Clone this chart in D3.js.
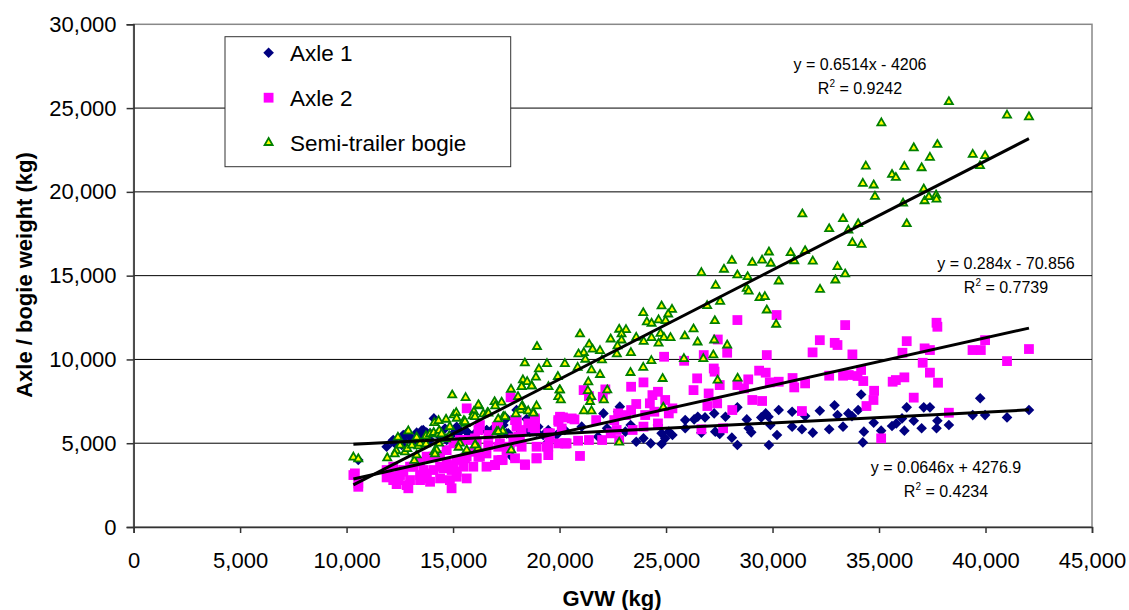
<!DOCTYPE html>
<html>
<head>
<meta charset="utf-8">
<script src="https://cdn.jsdelivr.net/npm/d3@7"></script>
<style>
  body { margin: 0; background: #fff; }
  text { font-family: Arial, "Liberation Sans", sans-serif; }
</style>
</head>
<body>
<div id="chart"></div>
<script>
// GVW (kg) vs axle weight (kg)
const axle1 = [
  [39750,7680],[42040,6980],[39400,6680],[39980,6680],[41010,6540],[38280,6090],[34160,7910],[32910,7260],
  [32220,6940],[30290,6980],[28350,7140],[36300,7140],[37100,7140],[37390,7140],[34020,6980],[33560,6780],
  [33730,6620],[33050,6680],[30920,6880],[31530,6620],[29680,6780],[29810,6580],[29470,6540],[28790,6420],
  [27790,6580],[27260,6780],[26830,6540],[26490,6580],[26320,6420],[25900,6380],[37740,6340],[36630,6340],
  [36080,6480],[35610,6030],[35810,6180],[34750,6220],[33310,5990],[32660,5830],[31890,5630],[31380,5830],
  [30920,5990],[29900,6090],[29000,5650],[28880,5890],[30210,5490],[28090,5330],[28350,4890],[29830,4890],
  [34290,5690],[34240,5050],[35100,5750],[36190,5750],[37000,5890],[37700,5890],[27520,5550],[27310,5690],
  [26660,5630],[25900,5890],[25130,5690],[25300,5490],[24790,5590],[24960,5290],[24790,4950],[24620,6090],
  [24280,4990],[23940,5290],[23600,5090],[23340,6090],[22830,7180],[22750,6880],[22060,6780],[22230,5890],
  [23090,5690],[21810,5390],[21040,5990],[17750,4200],[17360,6080],[18450,6440],[18060,5890],[18220,5690],
  [18610,5690],[18920,5690],[19390,4990],[19230,5490],[19860,5490],[17510,5590],[10550,4000],[11880,4790],
  [12120,5090],[12660,5490],[12980,5390],[13290,5630],[13520,5750],[13760,5630],[13920,5190],[15010,5590],
  [15320,5750],[15170,5980],[15640,5690],[16110,5690],[16340,5790],[16570,5750],[17510,6480],[17980,6980],
  [12660,5190],[13130,5090],[12350,4890],[14390,5390],[13450,5290],[14620,5880],[15640,5350],[16890,5880],
  [17200,5590],[14100,6480],[12190,5190],[12820,5590],[13600,5790],[13920,5590],[14390,5690],[14700,5190],
  [12590,4890],[13450,5390],[16580,5790],[15720,5590],[17590,5590],[18530,6380],[18460,5880],[19000,5980],
  [20250,5790],[19470,5790],[15250,5590]
];
const axle2 = [
  [30190,12650],[28350,12350],[33410,12050],[37700,12190],[37740,11950],[27430,11190],[32220,11150],[32920,10990],
  [33050,10860],[36300,11090],[39980,11150],[42040,10620],[39390,10560],[39780,10560],[31880,10420],[33750,10300],
  [36100,10400],[37140,10660],[37390,10560],[29730,10260],[27870,10400],[26770,10260],[24910,10160],[25850,9920],
  [27240,9460],[27280,9270],[41010,9900],[37050,9800],[37390,9210],[37770,8610],[29370,9330],[29680,9210],
  [32660,9030],[33310,9030],[33580,9070],[34160,9370],[33990,9010],[34260,8710],[36190,8930],[35640,8670],
  [35790,8770],[26460,8870],[27520,8470],[23940,8630],[23360,8370],[28860,8810],[28350,8470],[28660,8270],
  [29870,8630],[30290,8670],[30940,8890],[31020,8330],[31530,8570],[26290,8170],[27000,7970],[22150,8210],
  [21130,8170],[34770,8130],[36630,7720],[34740,7580],[34410,7220],[29050,7580],[29510,7520],[28110,6980],
  [26940,7220],[27400,7380],[24360,7870],[24620,8070],[24960,7580],[24240,7380],[23600,7340],[23360,6980],
  [23120,6680],[22750,6780],[21380,7810],[22030,7770],[25300,7080],[25130,6780],[24450,6880],[24020,6680],
  [31380,6920],[38280,6820],[22570,6380],[21720,6380],[20700,6420],[23940,5990],[24620,6180],[26660,5830],
  [27680,5890],[22680,5790],[23430,5790],[22400,5590],[22000,5190],[20870,5150],[21380,5190],[20270,4990],
  [22800,5190],[35100,5290],[20960,4240],[20160,6540],[17700,7740],[18530,6180],[18840,6480],[18720,5950],
  [17980,5990],[18140,5090],[18370,3740],[18920,4100],[19390,4790],[18920,4790],[17280,3990],[17510,4590],
  [20020,6580],[19950,6280],[19550,5590],[20330,4990],[19940,4990],[19520,5350],[17830,5290],[17670,4790],
  [10320,3100],[10550,2400],[11880,2960],[12190,2800],[12350,2560],[12900,2310],[12660,3400],[13130,3600],
  [13450,3100],[13760,2900],[14070,3400],[14390,2900],[14930,2310],[14700,3800],[15170,3000],[15480,3600],
  [15170,4000],[15640,4200],[15950,4490],[16260,4200],[16570,4390],[16970,3700],[17330,4000],[15640,7080],
  [16260,6080],[17050,5980],[17910,6380],[15320,5190],[14700,4590],[15710,5190],[15010,4990],[16110,4990],
  [16650,4890],[17200,4990],[14070,4200],[13450,3900],[12980,3600],[13760,4200],[14390,4290],[12510,3100],
  [11880,3400],[14930,3400],[15950,3600],[16570,3600],[14390,3600],[12980,2800],[15640,2900],
  [12190,3600],[12660,3300],[13600,3400],[14540,3500],[15010,3700],[12430,2800],[12820,2500],[13450,2800],
  [13920,2700],[14850,2800],[12190,3000],[10390,3200],[10550,2600],[13760,3200],[15170,3300],
  [17120,5980],[18850,5880],[18220,5790],[19940,6380],[20570,6480],[20100,5880],[19470,5590],[16190,5790],
  [16660,5490],[15400,5190],[16030,5290],[17120,4790],[18220,4790],[19470,4790],[20250,4990],[15560,4100],
  [16190,4190],[17120,3990],[17910,4100],[18920,4100],[18380,3700],[16970,3700],[19470,4290],[18060,5390],
  [18850,6380],[17990,6380]
];
const semiBogie = [
  [38280,25370],[41010,24570],[42040,24470],[35110,24110],[36630,22620],[37740,22820],[37390,22050],[39400,22230],
  [39980,22150],[39740,21550],[34380,21530],[36190,21510],[37000,21430],[35610,21030],[35790,20850],[34240,20500],
  [34750,20400],[34810,19720],[37100,20160],[37140,19460],[37340,19700],[37680,19800],[37700,19560],[36130,19320],
  [36300,18090],[31400,18670],[33310,18390],[32660,17790],[33560,17710],[34020,18090],[33750,16960],[34180,16860],
  [29830,16400],[30850,16360],[31530,16480],[31020,15880],[28090,15900],[29050,15780],[29510,15920],[29920,15730],
  [31890,15860],[33050,15530],[33410,15090],[32950,14730],[32230,14170],[26660,15170],[27720,15370],[28350,15030],
  [28830,14930],[27330,14410],[30290,14670],[28790,14230],[28880,14070],[29390,13680],[29640,13740],
  [27540,13460],[26930,13200],[29730,12940],[27290,12300],[30170,12090],[26290,11810],[25880,11390],[26480,11030],
  [27260,11150],[27870,10850],[27220,10260],[25840,10040],[26750,10040],[27420,8750],[28360,8870],
  [24790,13180],[25280,12980],[25100,12700],[23930,12780],[24100,12230],[24320,12150],[24650,12350],[24980,12310],
  [20960,11510],[22800,11790],[23120,11770],[22910,11510],[23600,11310],[22400,11210],[22910,11150],[23950,11070],
  [24320,11290],[24740,11550],[24900,11310],[25210,11290],[24650,10960],[18940,10760],[21390,10900],[22720,10800],
  [21140,10400],[20890,10320],[21550,10600],[21900,10520],[21990,9960],[21210,10000],[22690,10320],[23350,10400],
  [18370,9780],[19410,9740],[20250,9740],[21500,9370],[19030,9430],[20850,9520],[24310,9920],[23930,9520],
  [18890,8930],[18280,8770],[18480,8670],[19920,8970],[21900,9090],[23330,9210],[24840,8850],[18700,8410],
  [18230,8370],[19480,8370],[21350,8650],[20000,8170],[21330,8130],[22240,8170],[21490,7770],[19940,7770],
  [20060,7580],[22080,7580],[21430,7480],[18050,7770],[18260,7220],[18920,7220],[18170,6980],[18530,6920],
  [18770,6840],[21140,6920],[21500,6920],[22800,5050],[24870,7140],
  [10320,4160],[10550,4060],[11910,4120],[12410,5350],[12900,5730],[12330,4550],[12260,4350],[12740,4470],
  [12850,4670],[12510,4870],[13070,4870],[13180,3960],[13290,4290],[13370,4830],[13290,5350],[13730,5430],
  [13920,5550],[14120,6220],[14320,6340],[14670,6420],[14850,5980],[14090,5630],[14320,5550],[14350,5750],
  [14460,5550],[14670,5250],[13450,4990],[13730,4950],[14340,4990],[14120,4490],[14230,4590],[14150,4350],
  [14960,7870],[15590,7710],[15030,6680],[15150,6820],[15170,6480],[15510,6340],[15590,6180],[15980,6880],
  [16220,7220],[15920,6620],[16420,6740],[16620,6820],[14820,5430],[15320,4990],[15260,4750],[15640,4590],
  [16060,4890],[16950,7470],[16980,7220],[17280,7440],[17720,8210],[17950,6740],[17360,6580],[17120,6440],
  [17050,5690],[17330,5720],[17730,4590],[16170,4690],
  [16190,7280],[18220,8370],[18690,8410],[20020,8170],[16660,6780],[17440,6580],[18220,7180],[18770,6780],
  [16030,6580],[15560,6280],[17120,5690],[16030,4890]
];

const seriesNames = ["Axle 1", "Axle 2", "Semi-trailer bogie"];
const seriesData = [axle1, axle2, semiBogie];
// linear trendlines as printed on the chart
const trendSlope = [0.0646, 0.284, 0.6514];
const trendIntercept = [4276.9, -70.856, -4206];
const trendEq = ["y = 0.0646x + 4276.9", "y = 0.284x - 70.856", "y = 0.6514x - 4206"];
const trendR2 = ["0.4234", "0.7739", "0.9242"];
const yTicks = [0, 5000, 10000, 15000, 20000, 25000, 30000];
const xTicks = [0, 5000, 10000, 15000, 20000, 25000, 30000, 35000, 40000, 45000];

const width = 1129, height = 610;
const margin = {top: 24.3, right: 37, bottom: 83, left: 133.6};

const svg = d3.select('#chart').append('svg')
    .attr('width', width)
    .attr('height', height);

const x = d3.scaleLinear().domain([0, 45000]).range([margin.left, width - margin.right]);
const y = d3.scaleLinear().domain([0, 30000]).range([height - margin.bottom, margin.top]);
const fmt = d3.format(",");

// plot frame (grey top/right border)
svg.append('rect')
    .attr('x', x(0)).attr('y', y(30000))
    .attr('width', x(45000) - x(0)).attr('height', y(0) - y(30000))
    .attr('fill', 'white').attr('stroke', '#888').attr('stroke-width', 1.5);

// horizontal gridlines
svg.append('g').selectAll('line')
  .data(yTicks.filter(d => d > 0 && d < 30000))
  .join('line')
    .attr('x1', x(0)).attr('x2', x(45000))
    .attr('y1', d => y(d)).attr('y2', d => y(d))
    .attr('stroke', '#000').attr('stroke-width', 1);

// axes
svg.append('g')
    .attr('transform', `translate(${x(0)},0)`)
    .call(d3.axisLeft(y).tickValues(yTicks).tickFormat(fmt).tickSize(7).tickPadding(10))
    .call(g => g.selectAll('.domain, .tick line').attr('stroke', '#333').attr('stroke-width', 1.5))
    .call(g => g.selectAll('text').attr('font-size', 22).attr('fill', '#000')
      .style('font-family', 'Arial, "Liberation Sans", sans-serif'));

svg.append('g')
    .attr('transform', `translate(0,${y(0)})`)
    .call(d3.axisBottom(x).tickValues(xTicks).tickFormat(fmt).tickSize(6).tickPadding(19))
    .call(g => g.selectAll('.domain, .tick line').attr('stroke', '#333').attr('stroke-width', 1.5))
    .call(g => g.selectAll('text').attr('font-size', 22).attr('fill', '#000')
      .style('font-family', 'Arial, "Liberation Sans", sans-serif'));

// axis titles
svg.append('text')
    .attr('x', 612).attr('y', 606)
    .attr('text-anchor', 'middle')
    .attr('font-size', 22).attr('font-weight', 'bold')
    .text('GVW (kg)');

svg.append('text')
    .attr('transform', 'translate(32,275) rotate(-90)')
    .attr('text-anchor', 'middle')
    .attr('font-size', 22).attr('font-weight', 'bold')
    .text('Axle / bogie weight (kg)');

// markers
const diamond = d3.symbol().type(d3.symbolDiamond2).size(72);
const square = d3.symbol().type(d3.symbolSquare).size(96);
const triangle = d3.symbol().type(d3.symbolTriangle).size(28);

function drawMarker(sel, i) {
  if (i === 0) sel.attr('d', diamond).attr('fill', '#000080');
  else if (i === 1) sel.attr('d', square).attr('fill', '#FF00FF');
  else sel.attr('d', triangle).attr('fill', '#FFFF00').attr('stroke', '#008000').attr('stroke-width', 1.8);
}

seriesData.forEach((data, i) => {
  svg.append('g')
    .selectAll('path')
    .data(data)
    .join('path')
      .attr('transform', d => `translate(${x(d[0])},${y(d[1])})`)
      .call(drawMarker, i);
});

// trendlines over the data range
const allX = seriesData.flat().map(d => d[0]);
const xExt = d3.extent(allX);
const line = d3.line().x(d => x(d[0])).y(d => y(d[1]));
trendSlope.forEach((m, i) => {
  svg.append('path')
    .attr('d', line(xExt.map(v => [v, m * v + trendIntercept[i]])))
    .attr('stroke', '#000').attr('stroke-width', 3).attr('fill', 'none');
});

// equation labels
const eqPos = [[946, 473], [1006, 269], [860, 70]];
trendEq.forEach((eq, i) => {
  const [cx, cy] = eqPos[i];
  svg.append('text')
    .attr('x', cx).attr('y', cy)
    .attr('text-anchor', 'middle').attr('font-size', 16)
    .text(eq);
  const r = svg.append('text')
    .attr('x', cx).attr('y', cy + 24)
    .attr('text-anchor', 'middle').attr('font-size', 16);
  r.append('tspan').text('R');
  r.append('tspan').attr('font-size', 10).attr('dy', -7).text('2');
  r.append('tspan').attr('dy', 7).text(' = ' + trendR2[i]);
});

// legend
const legend = svg.append('g');
legend.append('rect')
    .attr('x', 225).attr('y', 36.7)
    .attr('width', 285.7).attr('height', 130)
    .attr('fill', 'white').attr('stroke', '#333').attr('stroke-width', 1);

const rows = legend.selectAll('g.row')
  .data(seriesNames)
  .join('g')
    .attr('class', 'row')
    .attr('transform', (d, i) => `translate(0,${52.7 + i * 45})`);

rows.append('path')
    .attr('transform', 'translate(268.6,0)')
    .each(function(d, i) { d3.select(this).call(drawMarker, i); });

rows.append('text')
    .attr('x', 290).attr('y', 0)
    .attr('dy', '0.35em')
    .attr('font-size', 22.5)
    .text(d => d);
</script>
</body>
</html>
